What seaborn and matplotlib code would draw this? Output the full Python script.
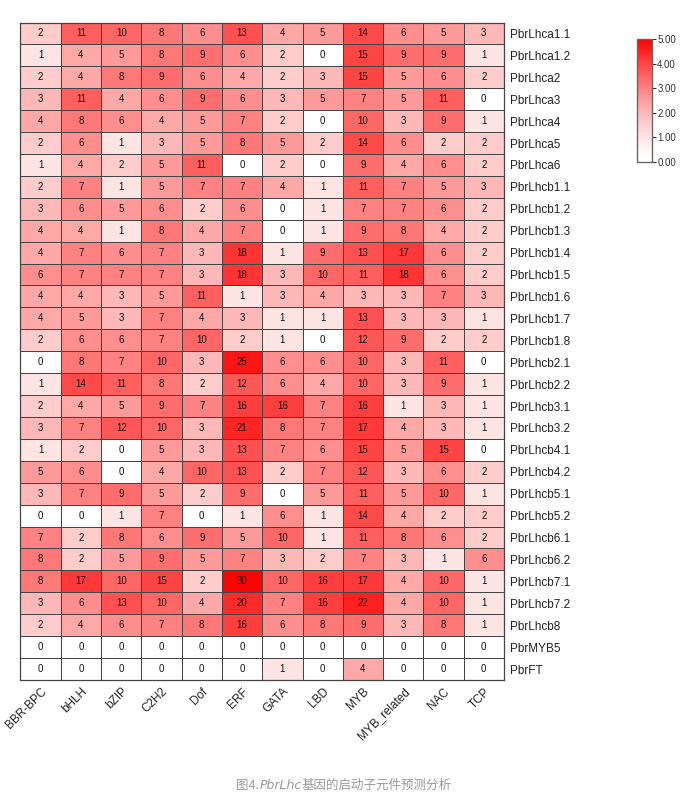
import numpy as np
import pandas as pd
import matplotlib
matplotlib.use('Agg')
import matplotlib.pyplot as plt
import seaborn as sns
from matplotlib.colors import LinearSegmentedColormap

# promoter element counts per gene
families = ['BBR-BPC', 'bHLH', 'bZIP', 'C2H2', 'Dof', 'ERF', 'GATA', 'LBD',
            'MYB', 'MYB_related', 'NAC', 'TCP']
genes = ['PbrLhca1.1', 'PbrLhca1.2', 'PbrLhca2', 'PbrLhca3', 'PbrLhca4',
         'PbrLhca5', 'PbrLhca6', 'PbrLhcb1.1', 'PbrLhcb1.2', 'PbrLhcb1.3',
         'PbrLhcb1.4', 'PbrLhcb1.5', 'PbrLhcb1.6', 'PbrLhcb1.7', 'PbrLhcb1.8',
         'PbrLhcb2.1', 'PbrLhcb2.2', 'PbrLhcb3.1', 'PbrLhcb3.2', 'PbrLhcb4.1',
         'PbrLhcb4.2', 'PbrLhcb5.1', 'PbrLhcb5.2', 'PbrLhcb6.1', 'PbrLhcb6.2',
         'PbrLhcb7.1', 'PbrLhcb7.2', 'PbrLhcb8', 'PbrMYB5', 'PbrFT']
counts = [
    [2, 11, 10, 8, 6, 13, 4, 5, 14, 6, 5, 3],
    [1, 4, 5, 8, 9, 6, 2, 0, 15, 9, 9, 1],
    [2, 4, 8, 9, 6, 4, 2, 3, 15, 5, 6, 2],
    [3, 11, 4, 6, 9, 6, 3, 5, 7, 5, 11, 0],
    [4, 8, 6, 4, 5, 7, 2, 0, 10, 3, 9, 1],
    [2, 6, 1, 3, 5, 8, 5, 2, 14, 6, 2, 2],
    [1, 4, 2, 5, 11, 0, 2, 0, 9, 4, 6, 2],
    [2, 7, 1, 5, 7, 7, 4, 1, 11, 7, 5, 3],
    [3, 6, 5, 6, 2, 6, 0, 1, 7, 7, 6, 2],
    [4, 4, 1, 8, 4, 7, 0, 1, 9, 8, 4, 2],
    [4, 7, 6, 7, 3, 18, 1, 9, 13, 17, 6, 2],
    [6, 7, 7, 7, 3, 18, 3, 10, 11, 18, 6, 2],
    [4, 4, 3, 5, 11, 1, 3, 4, 3, 3, 7, 3],
    [4, 5, 3, 7, 4, 3, 1, 1, 13, 3, 3, 1],
    [2, 6, 6, 7, 10, 2, 1, 0, 12, 9, 2, 2],
    [0, 8, 7, 10, 3, 25, 6, 6, 10, 3, 11, 0],
    [1, 14, 11, 8, 2, 12, 6, 4, 10, 3, 9, 1],
    [2, 4, 5, 9, 7, 16, 16, 7, 16, 1, 3, 1],
    [3, 7, 12, 10, 3, 21, 8, 7, 17, 4, 3, 1],
    [1, 2, 0, 5, 3, 13, 7, 6, 15, 5, 15, 0],
    [5, 6, 0, 4, 10, 13, 2, 7, 12, 3, 6, 2],
    [3, 7, 9, 5, 2, 9, 0, 5, 11, 5, 10, 1],
    [0, 0, 1, 7, 0, 1, 6, 1, 14, 4, 2, 2],
    [7, 2, 8, 6, 9, 5, 10, 1, 11, 8, 6, 2],
    [8, 2, 5, 9, 5, 7, 3, 2, 7, 3, 1, 6],
    [8, 17, 10, 15, 2, 30, 10, 16, 17, 4, 10, 1],
    [3, 6, 13, 10, 4, 20, 7, 16, 22, 4, 10, 1],
    [2, 4, 6, 7, 8, 16, 6, 8, 9, 3, 8, 1],
    [0, 0, 0, 0, 0, 0, 0, 0, 0, 0, 0, 0],
    [0, 0, 0, 0, 0, 0, 1, 0, 4, 0, 0, 0],
]

df = pd.DataFrame(counts, index=genes, columns=families)
scaled = np.log2(df + 1)

sns.set_style('white')
plt.rcParams['font.family'] = ['Liberation Sans', 'DejaVu Sans']

cmap = LinearSegmentedColormap.from_list('wr', ['#ffffff', '#ff0000'], gamma=1.4)

fig = plt.figure(figsize=(6.85, 8.01), dpi=100)
ax = fig.add_axes([0.0299, 0.1511, 0.7058, 0.8208])
cax = fig.add_axes([0.9295, 0.7981, 0.0219, 0.1532])

sns.heatmap(scaled, ax=ax, cbar_ax=cax, cmap=cmap, vmin=0, vmax=5,
            annot=df, fmt='d', annot_kws={'size': 7, 'color': '#111111'},
            linewidths=0.6, linecolor='#444444',
            cbar_kws={'ticks': [0, 1, 2, 3, 4, 5], 'format': '%.2f'})

ax.yaxis.tick_right()
ax.set_yticklabels(genes, rotation=0, fontsize=8.5, color='#222222')
ax.set_xticklabels(families, rotation=45, ha='right', rotation_mode='anchor',
                   fontsize=8.5, color='#222222')
ax.tick_params(axis='both', length=0, pad=4)
ax.set_xlabel('')
ax.set_ylabel('')
for s in ax.spines.values():
    s.set_visible(True)
    s.set_color('#444444')
    s.set_linewidth(0.9)

cb = ax.collections[0].colorbar
cb.outline.set_edgecolor('#666666')
cb.outline.set_linewidth(1)
cax.tick_params(labelsize=7, length=3, width=0.8, colors='#333333', pad=1)

# caption with italic gene family name
grey = '#9a9a9a'
cjk = ['Noto Sans CJK SC', 'DejaVu Sans']
t1 = fig.text(0.345, 0.0155, '图4.', fontsize=9, color=grey, family=cjk)
t2 = ax.annotate('PbrLhc', xy=(1, 0), xycoords=t1, va='bottom', ha='left',
                 fontsize=9, color=grey, style='italic',
                 family=['DejaVu Sans'], annotation_clip=False)
t3 = ax.annotate('基因的启动子元件预测分析', xy=(1, 0), xycoords=t2, va='bottom',
                 ha='left', fontsize=9, color=grey, family=cjk,
                 annotation_clip=False)

fig.savefig('out.png', dpi=100)
